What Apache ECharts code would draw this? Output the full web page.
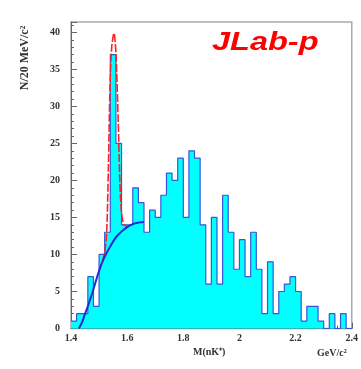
<!DOCTYPE html>
<html>
<head>
<meta charset="utf-8">
<script src="https://cdn.jsdelivr.net/npm/echarts@6/dist/echarts.min.js"></script>
<style>
html,body{margin:0;padding:0;background:#fff;}
#chart{width:361px;height:369px;}
</style>
</head>
<body>
<div id="chart"></div>
<script>
// Bin lower edges (GeV/c^2), 20 MeV bins
var binLow = [1.40,1.42,1.44,1.46,1.48,1.50,1.52,1.54,1.56,1.58,
              1.60,1.62,1.64,1.66,1.68,1.70,1.72,1.74,1.76,1.78,
              1.80,1.82,1.84,1.86,1.88,1.90,1.92,1.94,1.96,1.98,
              2.00,2.02,2.04,2.06,2.08,2.10,2.12,2.14,2.16,2.18,
              2.20,2.22,2.24,2.26,2.28,2.30,2.32,2.34,2.36,2.38];
var binHigh = 2.40;
// Counts per bin
var counts = [1,2,2,7,3,10,13,37,25,14,
              14,19,17,13,16,15,18,21,20,23,
              15,24,23,14,6,15,6,18,13,8,
              12,7,13,8,2,9,2,5,6,7,
              5,1,3,3,1,0,2,0,2,0];
// Background fit curve (blue)
var bkgX = [1.428,1.44,1.45,1.46,1.48,1.50,1.52,1.54,1.56,1.58,1.60,1.62,1.64,1.66];
var bkgY = [0,0.9,2.0,3.0,5.3,7.8,9.7,11.1,12.3,13.1,13.7,14.1,14.3,14.4];
// Signal + background fit curve (red)
var totX = [1.50,1.51,1.52,1.527,1.533,1.539,1.545,1.553,1.560,1.568,1.574,1.580,1.589,1.60];
var totY = [7.8,8.9,10.3,12.9,21.4,32.7,38.0,39.9,37.2,28.2,20.0,15.6,14.0,13.8];
// Axis ticks
var xTicks = {min:1.4, max:2.4, step:0.2};
var yTicks = {min:0, max:41.4, step:5};

var histData = binLow.map(function(x,i){return [x, counts[i]];});
histData.push([binHigh, counts[counts.length-1]]);
var bkgData = bkgX.map(function(x,i){return [x, bkgY[i]];});
var totData = totX.map(function(x,i){return [x, totY[i]];});

var chart = echarts.init(document.getElementById('chart'), null, {renderer:'canvas'});
var lblFont = {fontFamily:'Liberation Serif', fontSize:10, fontWeight:'bold', color:'#333'};
chart.setOption({
  animation:false,
  backgroundColor:'#fff',
  grid:{left:71, top:22, right:9, bottom:40.5, show:true, borderColor:'#aaa', borderWidth:1.5, backgroundColor:'transparent'},
  xAxis:{
    type:'value', min:xTicks.min, max:xTicks.max, interval:xTicks.step,
    axisLine:{show:true, lineStyle:{color:'#666', width:1}},
    axisTick:{show:true, inside:true, length:6, lineStyle:{color:'#666'}},
    minorTick:{show:true, splitNumber:4, length:3, lineStyle:{color:'#666'}},
    splitLine:{show:false},
    axisLabel:Object.assign({margin:5}, lblFont)
  },
  yAxis:{
    type:'value', min:yTicks.min, max:yTicks.max, interval:yTicks.step,
    axisLine:{show:true, lineStyle:{color:'#666', width:1}},
    axisTick:{show:true, inside:true, length:6, lineStyle:{color:'#666'}},
    minorTick:{show:true, splitNumber:5, length:3, lineStyle:{color:'#666'}},
    splitLine:{show:false},
    axisLabel:Object.assign({margin:11, showMaxLabel:false}, lblFont)
  },
  series:[
    {
      type:'line', step:'end', data:histData, symbol:'none', z:2,
      lineStyle:{color:'#3a55d8', width:1.2},
      areaStyle:{color:'#00ffff', opacity:1, origin:'start'}
    },
    {
      type:'line', data:totData, symbol:'none', smooth:0.3, z:3,
      lineStyle:{color:'#ff2020', width:1.6, type:[8,2]}
    },
    {
      type:'line', data:bkgData, symbol:'none', smooth:0.4, z:4,
      lineStyle:{color:'#1c2bd6', width:2}
    }
  ],
  graphic:[
    {type:'text', x:212, y:43, scaleX:1.25, style:{text:'JLab-p', fill:'#ff0000', font:'italic bold 26px "Liberation Sans", Arial, sans-serif', textAlign:'left', textVerticalAlign:'middle'}},
    {type:'text', x:25, y:58, rotation:Math.PI/2, style:{text:'N/20 MeV/c²', fill:'#333', font:'bold 12px "Liberation Serif", serif', textAlign:'center', textVerticalAlign:'middle'}},
    {type:'text', x:193, y:352, style:{text:'M(nK⁺)', fill:'#333', font:'bold 10px "Liberation Serif", serif', textAlign:'left', textVerticalAlign:'middle'}},
    {type:'text', x:317, y:353, style:{text:'GeV/c²', fill:'#333', font:'bold 10px "Liberation Serif", serif', textAlign:'left', textVerticalAlign:'middle'}}
  ]
});
</script>
</body>
</html>
